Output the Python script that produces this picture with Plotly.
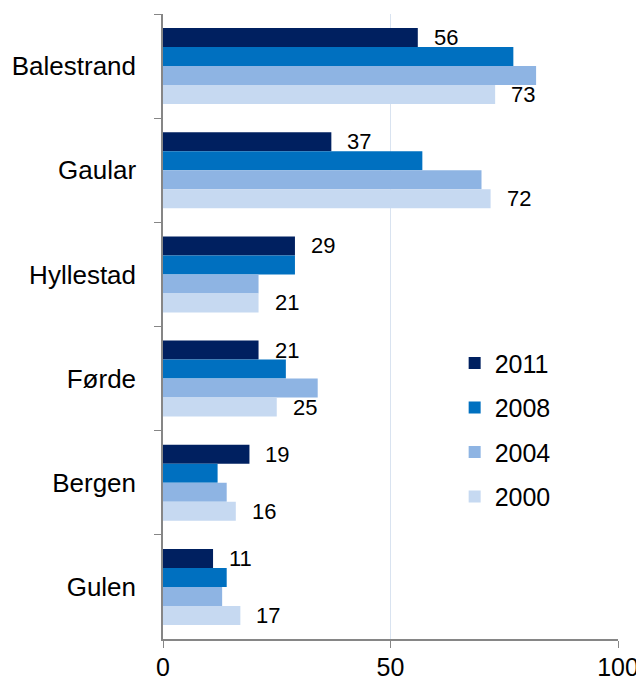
"""Grouped horizontal bars: municipalities by survey year."""

import plotly.graph_objects as go

municipalities = ["Balestrand", "Gaular", "Hyllestad", "Førde", "Bergen", "Gulen"]
years = ["2011", "2008", "2004", "2000"]
values_2011 = [56, 37, 29, 21, 19, 11]
values_2008 = [77, 57, 29, 27, 12, 14]
values_2004 = [82, 70, 21, 34, 14, 13]
values_2000 = [73, 72, 21, 25, 16, 17]
x_ticks = [0, 50, 100]

series = [values_2011, values_2008, values_2004, values_2000]
colors = ["#002060", "#0070C0", "#8EB4E3", "#C6D9F1"]
labelled = {"2011": 28.5, "2000": -28.5}  # year -> vertical shift of its label

font = "Liberation Sans, Arial, sans-serif"

fig = go.Figure()
for year, vals, color in zip(years, series, colors):
    fig.add_trace(
        go.Bar(
            y=municipalities,
            x=vals,
            name=year,
            orientation="h",
            marker={"color": color, "line": {"width": 0}},
            legendgroup=year,
        )
    )

annotations = []
for year, vals in zip(years, series):
    if year not in labelled:
        continue
    for place, v in zip(municipalities, vals):
        annotations.append(
            dict(
                x=v,
                y=place,
                text=str(v),
                showarrow=False,
                xanchor="left",
                yanchor="middle",
                xshift=14,
                yshift=labelled[year],
                font={"size": 22, "color": "black", "family": font},
            )
        )

# the page body adds an 8px offset, so the figure is 8px smaller than the window
fig.update_layout(
    width=636,
    height=673,
    margin={"l": 155, "r": 26, "t": 6, "b": 42},
    barmode="group",
    bargap=0.27,
    bargroupgap=0,
    plot_bgcolor="white",
    paper_bgcolor="white",
    font={"family": font, "size": 26, "color": "black"},
    showlegend=True,
    legend={
        "x": 0.641,
        "y": 0.478,
        "xanchor": "left",
        "yanchor": "top",
        "traceorder": "grouped",
        "tracegroupgap": 9,
        "font": {"size": 25},
        "bgcolor": "rgba(0,0,0,0)",
    },
    annotations=annotations,
)
fig.update_xaxes(
    range=[0, 100],
    tickvals=x_ticks,
    showgrid=True,
    gridcolor="#D9E3F0",
    gridwidth=1,
    zeroline=False,
    showline=True,
    linecolor="#868686",
    linewidth=1.5,
    ticks="outside",
    ticklen=7,
    tickcolor="#868686",
    ticklabelstandoff=-2,
    tickfont={"size": 25},
    automargin=False,
)
fig.update_yaxes(
    autorange="reversed",
    showgrid=False,
    showline=True,
    linecolor="#868686",
    linewidth=1.5,
    ticks="outside",
    tickson="boundaries",
    ticklen=7,
    tickcolor="#868686",
    ticklabelstandoff=20,
    automargin=False,
)

fig.write_html("out.html")
